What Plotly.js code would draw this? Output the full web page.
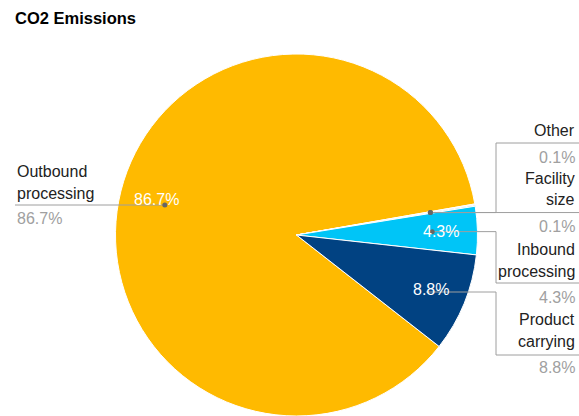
<!DOCTYPE html>
<html>
<head>
<meta charset="utf-8">
<script src="https://cdn.plot.ly/plotly-3.0.1.min.js"></script>
<style>
html,body{margin:0;padding:0;background:#fff;overflow:hidden;}
#chart{width:579px;height:416px;}
</style>
</head>
<body>
<div id="chart"></div>
<script>
// ---- data ----
const labels = ['Outbound processing', 'Other', 'Facility size', 'Inbound processing', 'Product carrying'];
const values = [86.7, 0.1, 0.1, 4.3, 8.8];
const percentText = ['86.7%', '0.1%', '0.1%', '4.3%', '8.8%'];
const colors = ['#FFBA00', '#F4F4F4', '#6FAFC4', '#00C5F7', '#014282'];

// ---- geometry (pixels) ----
const W = 579, H = 416;
const CX = 296.5, CY = 235, R = 181;
const ROT = 128; // start angle, degrees clockwise from 12 o'clock
const px = x => x / W;
const py = y => 1 - y / H;

// mid angles from data
const total = values.reduce((a, b) => a + b, 0);
let acc = 0;
const mids = values.map(v => { const m = ROT + (acc + v / 2) / total * 360; acc += v; return m; });
const polar = (deg, f) => {
  const a = deg * Math.PI / 180;
  return [CX + f * R * Math.sin(a), CY - f * R * Math.cos(a)];
};

const annotations = [];
const shapes = [];
const FAM = 'Liberation Sans, Arial, sans-serif';
const nameFont = {family: FAM, size: 16, color: '#222222'};
const pctFont = {family: FAM, size: 16, color: '#A0A0A0'};
const lineStyle = {color: '#9E9E9E', width: 1};

// inside percentage labels
values.forEach((v, i) => {
  if (v / total < 0.01) return;
  const [x, y] = polar(mids[i], 0.8);
  annotations.push({x: px(x), y: py(y), xref: 'paper', yref: 'paper', text: percentText[i],
    showarrow: false, xanchor: 'center', yanchor: 'middle',
    font: {family: FAM, size: 16, color: '#FFFFFF'}});
});

// outside label layout: [index, side, nameLineYs, underlineY, pctY]
const outside = [
  [0, 'left', [171, 193], 205, 218],
  [1, 'right', [130], 143, 157],
  [2, 'right', [178, 199], 213, 227],
  [3, 'right', [249, 271], 283, 297],
  [4, 'right', [319, 341], 355, 367]
];
const LEFT_X = 15, RIGHT_X = 577, ELBOW_X = 496;

outside.forEach(([i, side, ys, uy, pyv]) => {
  const words = labels[i].split(' ');
  const xa = side === 'left' ? 'left' : 'right';
  const tx = side === 'left' ? LEFT_X : RIGHT_X;
  words.forEach((w, k) => {
    annotations.push({x: px(tx), y: py(ys[k]), xref: 'paper', yref: 'paper', text: w,
      showarrow: false, xanchor: xa, yanchor: 'middle', font: nameFont});
  });
  annotations.push({x: px(tx), y: py(pyv), xref: 'paper', yref: 'paper', text: percentText[i],
    showarrow: false, xanchor: xa, yanchor: 'middle', font: pctFont});

  // leader line
  let [dx, dy] = polar(mids[i], 0.75);
  if (i === 1 || i === 2) { [dx, dy] = polar((mids[1] + mids[2]) / 2, 0.75); }
  let pts;
  if (side === 'left') {
    pts = [[dx, uy], [LEFT_X, uy]];
    dy = uy;
  } else if (Math.abs(dy - uy) < 2) {
    pts = [[dx, dy], [W, dy]];
  } else if (i === 4) {
    pts = [[dx + 4, 292], [ELBOW_X, 292], [ELBOW_X, uy], [W, uy]];
  } else {
    pts = [[dx, dy], [ELBOW_X, dy], [ELBOW_X, uy], [W, uy]];
  }
  const path = pts.map((p, k) => (k ? 'L' : 'M') + px(p[0]) + ',' + py(p[1])).join(' ');
  shapes.push({type: 'path', xref: 'paper', yref: 'paper', path: path, line: lineStyle, layer: 'above'});
  if (i !== 4) {
    const rr = 2.5;
    shapes.push({type: 'circle', xref: 'paper', yref: 'paper',
      x0: px(dx - rr), x1: px(dx + rr), y0: py(dy + rr), y1: py(dy - rr),
      fillcolor: '#666666', line: {width: 0}, layer: 'above'});
  }
});

const trace = {
  type: 'pie',
  labels: labels,
  values: values,
  sort: false,
  direction: 'clockwise',
  rotation: ROT,
  textinfo: 'none',
  hoverinfo: 'label+percent',
  marker: {colors: colors, line: {color: '#FFFFFF', width: 1}},
  domain: {x: [px(CX - R), px(CX + R)], y: [Math.max(0, py(CY + R)), py(CY - R)]}
};

const layout = {
  width: W, height: H,
  margin: {l: 0, r: 0, t: 0, b: 0},
  showlegend: false,
  paper_bgcolor: '#FFFFFF',
  title: {text: 'CO2 Emissions', x: px(15), xanchor: 'left', xref: 'paper',
    y: py(18), yanchor: 'middle', yref: 'paper',
    font: {family: FAM, size: 16.5, color: '#000000', weight: 700}},
  annotations: annotations,
  shapes: shapes
};

Plotly.newPlot('chart', [trace], layout, {displayModeBar: false, staticPlot: true});
</script>
</body>
</html>
